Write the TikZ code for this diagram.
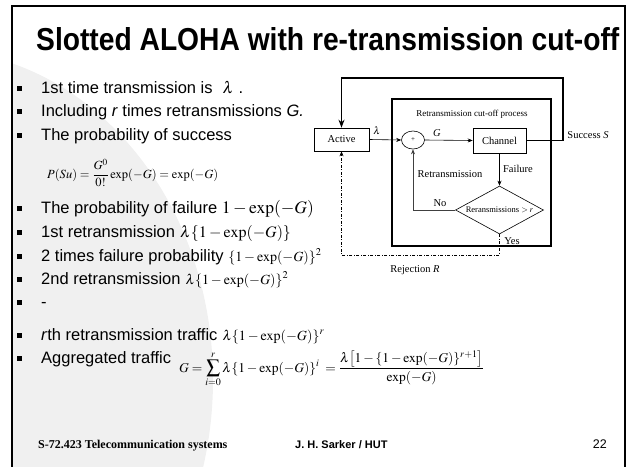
\documentclass[tikz,border=0pt]{standalone}
\usepackage{graphicx}
\usepackage{mathptmx}
\usepackage[no-math]{fontspec}
\setmainfont{Liberation Sans}
\newfontfamily\tms{Liberation Serif}
\usetikzlibrary{shapes.geometric,arrows.meta}
\tikzset{
  bul/.style={fill=black,minimum size=5pt,inner sep=0pt},
  txt/.style={anchor=base west,inner sep=0pt,font=\fontsize{16.5}{19}\selectfont},
  box/.style={draw,line width=0.6pt,inner sep=0pt,font=\tms\fontsize{10.5}{12}\selectfont},
  lbl/.style={inner sep=0pt,font=\tms\fontsize{10.5}{12}\selectfont},
  arr/.style={-{Stealth[length=5pt,width=4pt]},line width=0.6pt},
  foot/.style={anchor=base west,inner sep=0pt}
}
\begin{document}
\begin{tikzpicture}[x=1pt,y=-1pt]
\useasboundingbox (0,0) rectangle (629,466);
% faint background
\begin{scope}
\clip (12,6) rectangle (625,466);
\fill[black!6] (-67,380) ellipse [x radius=280, y radius=330];
\end{scope}
% frame
\draw[line width=2pt] (12,467) -- (12,6) -- (625,6) -- (625,467);
% title
\node[anchor=base west,inner sep=0pt] (title) at (36,50)
  {\resizebox{583pt}{23pt}{\bfseries Slotted ALOHA with re-transmission cut-off}};
% bullets
\foreach \n/\y in {1/93,2/116,3/140,5/213,6/237,7/261,8/284,9/307,10/340,11/363}
  \node[bul] (b\n) at (19,\y-5) {};
\node[txt] (t1) at (41,93) {1st time transmission is\hspace{10pt}$\lambda$\hspace{5pt}.};
\node[txt] (t2) at (41,116) {Including \textit{r} times retransmissions \textit{G.}};
\node[txt] (t3) at (41,140) {The probability of success};
\node[anchor=west,inner sep=0pt] (t4) at (47,173)
  {\fontsize{12.5}{14}\selectfont $\displaystyle P(Su)=\frac{G^0}{0!}\exp(-G)=\exp(-G)$};
\node[txt] (t5) at (41,213) {The probability of failure {\fontsize{17.5}{20}\selectfont$1-\exp(-G)$}};
\node[txt] (t6) at (41,237) {1st retransmission\hspace{5pt}{\fontsize{16}{19}\selectfont$\lambda\{1-\exp(-G)\}$}};
\node[txt] (t7) at (41,261) {2 times failure probability {\fontsize{14}{16}\selectfont$\{1-\exp(-G)\}^2$}};
\node[txt] (t8) at (41,284) {2nd retransmission\hspace{5pt}{\fontsize{14}{16}\selectfont$\lambda\{1-\exp(-G)\}^2$}};
\node[txt] (t9) at (41,307) {-};
\node[txt] (t10) at (41,340) {\textit{r}th retransmission traffic\hspace{5pt}{\fontsize{14}{16}\selectfont$\lambda\{1-\exp(-G)\}^r$}};
\node[txt] (t11) at (41,363) {Aggregated traffic};
\node[anchor=base west,inner sep=0pt] (t11m) at (179,372)
  {\fontsize{13.5}{16}\selectfont $\displaystyle G=\sum_{i=0}^{r}\lambda\{1-\exp(-G)\}^i\;=\frac{\lambda\bigl[1-\{1-\exp(-G)\}^{r+1}\bigr]}{\exp(-G)}$};
% diagram
\node[draw,line width=1.5pt,minimum width=159pt,minimum height=147pt,inner sep=0pt] (proc) at (471.5,172.5) {};
\node[inner sep=0pt,font=\tms\fontsize{9}{10}\selectfont] (ptitle) at (472,114) {Retransmission cut-off process};
\node[box,minimum width=55pt,minimum height=23pt] (act) at (341.5,139.5) {Active};
\node[draw,ellipse,line width=0.6pt,minimum width=23pt,minimum height=18pt,inner sep=0pt,font=\tms\fontsize{7}{8}\selectfont] (sum) at (413,140) {+};
\node[box,minimum width=53pt,minimum height=25pt] (chan) at (499.5,140.5) {Channel};
\node[draw,diamond,aspect=1.83,line width=0.6pt,minimum width=88pt,minimum height=48pt,inner sep=0pt,font=\tms\fontsize{8.5}{10}\selectfont] (dia) at (499.5,210) {Reransmissions $>r$};
\coordinate (tr) at (563,78);
\coordinate (yb) at (499.5,255);
\draw[arr] (act.east) -- (sum.west);
\draw[arr] (sum.east) -- (chan.west);
\draw[-{Stealth[length=8pt,width=6pt]},line width=1.5pt] (chan.east) -| (tr) -| (act.north);
\draw[arr] (chan.south) -- (dia.north);
\draw[arr,black!75] (dia.west) -| (sum.south);
\draw[arr,dash pattern=on 3pt off 1.5pt on 1pt off 1.5pt] (dia.south) -- (yb) -| (act.south);
\node[lbl] (lam) at (377,131) {$\lambda$};
\node[lbl] (glab) at (437,133) {\textit{G}};
\node[lbl] (succ) at (588,135) {Success \textit{S}};
\node[lbl] (fail) at (518,169) {Failure};
\node[lbl] (retr) at (450,174) {Retransmission};
\node[lbl] (no) at (440,203) {No};
\node[lbl] (yes) at (512,241) {Yes};
\node[lbl] (rejl) at (415,270) {Rejection \textit{R}};
% footer
\node[foot] (f1) at (38,448) {\tms\bfseries\fontsize{12}{14}\selectfont S-72.423 Telecommunication systems};
\node[foot] (f2) at (295,448) {\bfseries\fontsize{11}{13}\selectfont J. H. Sarker / HUT};
\node[anchor=base east,inner sep=0pt] (f3) at (607,448) {\fontsize{12.5}{14}\selectfont 22};
\end{tikzpicture}
\end{document}
